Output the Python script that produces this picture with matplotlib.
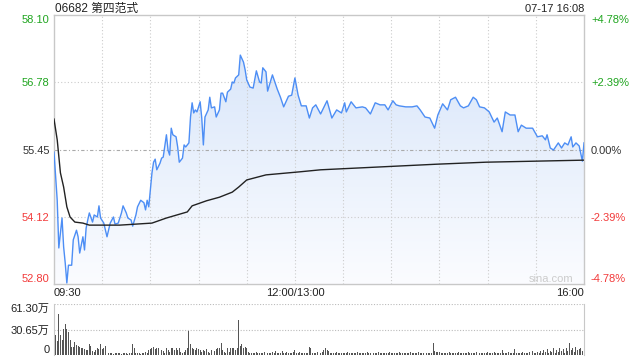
import numpy as np
import matplotlib
matplotlib.use("Agg")
import matplotlib.pyplot as plt
from matplotlib.colors import LinearSegmentedColormap

plt.rcParams['font.family'] = ['Liberation Sans', 'Noto Sans CJK SC', 'DejaVu Sans']

# minutes since 09:30 (lunch break removed: 150 = 12:00/13:00, 330 = 16:00)
price_minute = [0, 2, 3, 5, 6, 7, 8, 9, 11, 12,
                14, 15, 16, 18, 19, 20, 21, 22, 24, 25,
                27, 28, 29, 31, 33, 35, 37, 38, 40, 42,
                43, 45, 46, 48, 49, 51, 52, 54, 56, 57,
                58, 59, 61, 62, 63, 64, 66, 67, 68, 70,
                71, 72, 73, 74, 76, 77, 78, 80, 81, 82,
                84, 85, 86, 87, 88, 89, 91, 92, 93, 94,
                96, 97, 98, 100, 101, 103, 104, 105, 107, 108,
                110, 111, 112, 113, 115, 116, 118, 119, 120, 122,
                124, 126, 128, 129, 130, 132, 133, 136, 139, 141,
                143, 146, 148, 150, 152, 154, 157, 159, 161, 163,
                166, 170, 173, 176, 179, 181, 182, 185, 188, 192,
                194, 197, 200, 203, 206, 208, 211, 213, 215, 219,
                223, 226, 228, 231, 234, 237, 239, 242, 245, 247,
                250, 253, 255, 258, 261, 263, 265, 268, 271, 274,
                276, 279, 281, 284, 287, 289, 291, 294, 298, 301,
                304, 306, 307, 309, 311, 314, 316, 318, 320, 322,
                323, 325, 327, 329, 330]
price = [55.40, 54.45, 53.51, 54.10, 53.53, 53.21, 52.82, 53.17, 53.17, 53.67,
         53.86, 53.73, 53.41, 53.73, 53.47, 53.90, 54.06, 54.20, 54.02, 54.16,
         54.12, 54.34, 54.10, 54.00, 53.73, 54.00, 54.12, 53.98, 54.00, 54.20,
         54.34, 54.20, 54.10, 54.06, 53.94, 54.16, 54.32, 54.45, 54.40, 54.26,
         54.45, 54.32, 54.99, 55.20, 55.26, 55.05, 55.18, 55.28, 55.30, 55.74,
         55.44, 55.34, 55.87, 55.74, 55.70, 55.50, 55.20, 55.28, 55.54, 55.50,
         55.58, 56.09, 56.37, 56.17, 56.23, 56.19, 56.39, 56.07, 55.54, 56.09,
         56.23, 56.48, 56.27, 56.29, 56.09, 56.23, 56.56, 56.56, 56.39, 56.58,
         56.64, 56.78, 56.76, 56.86, 56.92, 57.31, 57.17, 57.02, 56.82, 56.68,
         56.66, 57.00, 56.78, 56.76, 57.06, 56.98, 56.60, 56.92, 56.64, 56.48,
         56.29, 56.50, 56.52, 56.86, 56.52, 56.31, 56.31, 56.07, 56.27, 56.33,
         56.15, 56.41, 56.07, 56.23, 56.17, 56.37, 56.19, 56.39, 56.27, 56.29,
         56.27, 56.15, 56.37, 56.33, 56.33, 56.23, 56.41, 56.33, 56.31, 56.29,
         56.29, 56.31, 56.23, 56.09, 56.07, 55.87, 56.13, 56.35, 56.23, 56.43,
         56.48, 56.31, 56.27, 56.31, 56.48, 56.43, 56.29, 56.27, 56.19, 55.99,
         56.07, 55.80, 56.19, 56.13, 56.13, 55.80, 55.93, 55.87, 55.87, 55.70,
         55.72, 55.64, 55.74, 55.48, 55.44, 55.58, 55.48, 55.58, 55.54, 55.70,
         55.50, 55.58, 55.52, 55.22, 55.58]

avg_minute = [0, 2, 4, 6, 8, 10, 13, 18, 22, 41, 61, 70, 83, 86, 95,
              103, 111, 115, 120, 132, 153, 166, 238, 269, 330]
avg_price = [56.05, 55.64, 54.99, 54.71, 54.32, 54.12, 54.02, 54.00, 53.96, 53.96,
             54.00, 54.10, 54.22, 54.34, 54.44, 54.51, 54.61, 54.71, 54.85, 54.95,
             55.01, 55.05, 55.16, 55.20, 55.24]

# volume per minute, in 万 shares
volume = [61.3, 24, 17, 49, 24, 18, 31, 37, 31, 28, 18, 10, 10, 16, 12, 11, 10, 9, 8, 7,
          6, 6, 13, 11, 5, 4, 6, 9, 7, 13, 7, 8, 11, 2, 2, 2, 3, 1, 2, 2,
          3, 2, 1, 2, 3, 2, 1, 2, 3, 13, 8, 2, 3, 2, 1, 3, 2, 4, 3, 6,
          7, 8, 10, 7, 9, 8, 7, 6, 5, 3, 8, 6, 4, 8, 8, 6, 9, 6, 8, 4,
          3, 4, 6, 8, 29, 13, 8, 7, 6, 8, 7, 6, 4, 6, 5, 7, 4, 2, 6, 3,
          5, 7, 8, 8, 14, 6, 4, 3, 8, 4, 8, 8, 9, 6, 8, 42, 11, 13, 9, 10,
          9, 4, 3, 2, 3, 2, 4, 3, 2, 3, 2, 4, 3, 2, 3, 2, 4, 3, 5, 3,
          2, 3, 5, 2, 3, 4, 2, 3, 2, 4, 6, 3, 2, 4, 3, 2, 3, 2, 3, 10,
          8, 3, 2, 3, 4, 3, 2, 4, 6, 8, 6, 5, 3, 2, 3, 2, 4, 3, 2, 3,
          2, 3, 2, 4, 3, 2, 3, 2, 3, 4, 2, 3, 2, 3, 2, 4, 3, 2, 3, 2,
          3, 2, 4, 3, 2, 3, 2, 3, 2, 4, 3, 2, 3, 2, 3, 4, 2, 3, 2, 3,
          2, 3, 4, 3, 2, 3, 2, 4, 3, 2, 3, 4, 3, 2, 3, 2, 15, 5, 4, 4,
          4, 3, 2, 3, 2, 3, 4, 2, 3, 2, 3, 2, 4, 3, 2, 3, 2, 3, 4, 2,
          3, 2, 3, 4, 2, 3, 2, 3, 2, 3, 4, 2, 3, 2, 4, 3, 2, 3, 2, 6,
          3, 2, 3, 4, 2, 3, 2, 7, 3, 2, 3, 2, 4, 3, 2, 3, 4, 3, 5, 3,
          2, 4, 3, 5, 3, 6, 4, 7, 3, 5, 4, 8, 3, 6, 4, 9, 5, 7, 3, 8,
          5, 15, 6, 8, 4, 10, 6, 7, 9, 5, 8]

prev_close = 55.45
price_ticks = [52.80, 54.12, 55.45, 56.78, 58.10]
pct_labels = ['-4.78%', '-2.39%', '0.00%', '+2.39%', '+4.78%']
vol_ticks = [0, 30.65, 61.30]
vol_labels = ['0', '30.65万', '61.30万']
time_ticks = [0, 150, 330]
time_labels = ['09:30', '12:00/13:00', '16:00']

GREEN = '#1fa51f'
RED = '#f23a3a'
DARK = '#333333'
FRAME = '#c8c8c8'
colors = [RED, RED, DARK, GREEN, GREEN]

fig = plt.figure(figsize=(6.4, 3.6), dpi=100)
ax = fig.add_axes([54/640, 1-284/360, 530/640, 269/360])
axv = fig.add_axes([54/640, 5/360, 530/640, 51/360])

ax.set_xlim(0, 330)
ax.set_ylim(52.80, 58.10)

# gradient fill under the price line
poly = ax.fill_between(price_minute, price, 52.80, color='none', lw=0)
grad = np.linspace(0, 1, 256).reshape(-1, 1)
cmap = LinearSegmentedColormap.from_list('fill', ['#fbfcff', '#d4e3f9'])
im = ax.imshow(grad, extent=[0, 330, 52.80, 58.10], origin='lower',
               aspect='auto', cmap=cmap, zorder=1)
im.set_clip_path(poly.get_paths()[0], transform=ax.transData)

ax.plot(price_minute, price, color='#4d8ef5', lw=1.0, zorder=3)
ax.plot(avg_minute, avg_price, color='#222222', lw=1.0, zorder=3)

# grid
for m in range(30, 330, 30):
    ax.axvline(m, color='#cccccc', lw=0.8, ls=(0, (1, 2)), zorder=2)
for p in [54.12, 56.78]:
    ax.axhline(p, color='#cccccc', lw=0.8, ls=(0, (1, 2)), zorder=2)
ax.axhline(prev_close, color='#aaaaaa', lw=0.8, ls=(0, (3, 2, 1, 2)), zorder=2)

for s in ax.spines.values():
    s.set_color(FRAME)
    s.set_linewidth(1)

ax.set_yticks(price_ticks, ['%.2f' % p for p in price_ticks])
ax.tick_params(axis='y', length=0, pad=3, labelsize=8)
for lab, c in zip(ax.get_yticklabels(), colors):
    lab.set_color(c)
ax.get_yticklabels()[0].set_va('bottom')
ax.get_yticklabels()[-1].set_va('top')

ax.set_xticks(time_ticks, time_labels)
ax.tick_params(axis='x', length=0, pad=3, labelsize=8, labelcolor='#222222')
xl = ax.get_xticklabels()
xl[0].set_ha('left')
xl[-1].set_ha('right')

ax2 = ax.twinx()
ax2.set_ylim(52.80, 58.10)
ax2.set_yticks(price_ticks, pct_labels)
ax2.tick_params(axis='y', length=0, pad=5, labelsize=8)
for lab, c in zip(ax2.get_yticklabels(), colors):
    lab.set_color(c)
ax2.get_yticklabels()[0].set_va('bottom')
ax2.get_yticklabels()[-1].set_va('top')
for s in ax2.spines.values():
    s.set_visible(False)

ax.text(0.002, 1 + 6.5/269, '06682 第四范式', transform=ax.transAxes, ha='left', va='center',
        fontsize=8.5, color='#222222')
ax.text(1.0, 1 + 6.5/269, '07-17 16:08', transform=ax.transAxes, ha='right', va='center',
        fontsize=8, color='#222222')
ax.text(0.937, 5/269, 'sina.com', transform=ax.transAxes, ha='center', va='center',
        fontsize=8, color='#cccccc')

# volume panel
vm = np.arange(len(volume))
axv.bar(vm, volume, width=0.6, color='#555555', zorder=3)
axv.set_xlim(0, 330)
axv.set_ylim(0, 61.30)
axv.axhline(30.65, color='#bbbbbb', lw=0.8, ls=(0, (1, 1.5)), zorder=1)
axv.axhline(61.30, color='#bbbbbb', lw=0.8, ls=(0, (1, 1.5)), zorder=1)
axv.spines['top'].set_visible(False)
axv.spines['bottom'].set_visible(False)
axv.spines['left'].set_color(FRAME)
axv.spines['right'].set_color(FRAME)
axv.set_xticks([])
axv.set_yticks(vol_ticks, vol_labels)
axv.tick_params(axis='y', length=0, pad=3, labelsize=8, labelcolor='#222222')
axv.get_yticklabels()[0].set_va('bottom')
axv.get_yticklabels()[-1].set_va('top')

fig.savefig('out.png', dpi=100)
